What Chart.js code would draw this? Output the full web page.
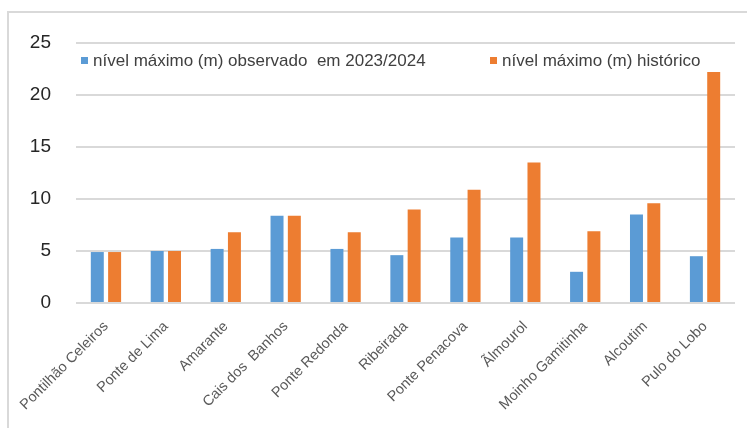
<!DOCTYPE html>
<html>
<head>
<meta charset="utf-8">
<script src="https://cdn.jsdelivr.net/npm/chart.js@4"></script>
<style>
  html, body { margin: 0; padding: 0; background: #fff; }
  #wrap { width: 747px; height: 428px; }
</style>
</head>
<body>
<div id="wrap"><canvas id="grafico"></canvas></div>
<script>
const estacoes = ['Pontilhão Celeiros', 'Ponte de Lima', 'Amarante', 'Cais dos  Banhos', 'Ponte Redonda',
  'Ribeirada', 'Ponte Penacova', 'Ãlmourol', 'Moinho Gamitinha', 'Alcoutim', 'Pulo do Lobo'];
const nivelObservado = [4.9, 5.0, 5.2, 8.4, 5.2, 4.6, 6.3, 6.3, 3.0, 8.5, 4.5];
const nivelHistorico = [4.9, 5.0, 6.8, 8.4, 6.8, 9.0, 10.9, 13.5, 6.9, 9.6, 22.2];
const ticksY = [0, 5, 10, 15, 20, 25];

const fonte = "'Liberation Sans', Arial, sans-serif";

// moldura cinzenta e legenda dentro da area do grafico
const molduraLegenda = {
  id: 'molduraLegenda',
  beforeDraw(chart) {
    const ctx = chart.ctx;
    ctx.save();
    ctx.strokeStyle = '#d9d9d9';
    ctx.lineWidth = 2;
    ctx.strokeRect(8, 12, 800, 500);
    ctx.restore();
  },
  afterDraw(chart) {
    const ctx = chart.ctx;
    const area = chart.chartArea;
    const posicoes = [area.left + 5, 490];
    ctx.save();
    ctx.font = '17px ' + fonte;
    ctx.textBaseline = 'middle';
    chart.data.datasets.forEach((ds, i) => {
      const x = posicoes[i];
      ctx.fillStyle = ds.backgroundColor;
      ctx.fillRect(x, 57, 7, 7);
      ctx.fillStyle = '#404040';
      ctx.fillText(ds.label, x + 12, 61);
    });
    ctx.restore();
  }
};

new Chart(document.getElementById('grafico'), {
  type: 'bar',
  data: {
    labels: estacoes,
    datasets: [
      { label: 'nível máximo (m) observado  em 2023/2024', data: nivelObservado, backgroundColor: '#5B9BD5' },
      { label: 'nível máximo (m) histórico', data: nivelHistorico, backgroundColor: '#ED7D31' }
    ]
  },
  options: {
    responsive: true,
    maintainAspectRatio: false,
    animation: false,
    datasets: { bar: { categoryPercentage: 0.578, barPercentage: 0.75 } },
    layout: { padding: { left: 0, right: 12, top: 43, bottom: 0 } },
    plugins: { legend: { display: false }, tooltip: { enabled: false } },
    scales: {
      x: {
        grid: { display: false },
        border: { display: false },
        ticks: {
          font: { family: fonte, size: 14.5 },
          color: '#595959',
          minRotation: 45,
          maxRotation: 45,
          autoSkip: false,
          padding: 7
        },
        afterFit(scale) { scale.height = 125; }
      },
      y: {
        min: 0,
        max: 25,
        afterBuildTicks(scale) { scale.ticks = ticksY.map(v => ({ value: v })); },
        grid: { color: '#d9d9d9', lineWidth: 2, drawTicks: false },
        border: { display: false },
        ticks: {
          font: { family: fonte, size: 19 },
          color: '#262626',
          padding: 25
        },
        afterFit(scale) { scale.width = 76; }
      }
    }
  },
  plugins: [molduraLegenda]
});
</script>
</body>
</html>
